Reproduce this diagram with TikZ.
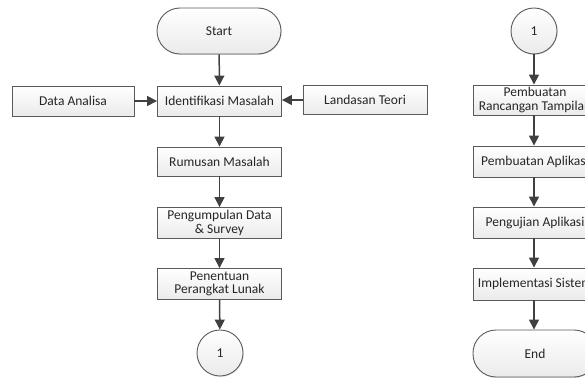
\documentclass[tikz,border=0pt]{standalone}
\usepackage{fontspec}
\setmainfont{Carlito}
\usetikzlibrary{arrows.meta,shadows}
\definecolor{edgegray}{HTML}{5A5A5A}
\definecolor{linegray}{HTML}{404040}
\tikzset{
  base/.style={draw=edgegray, line width=0.9pt, top color=white, bottom color=black!8,
    drop shadow={shadow xshift=0.8pt, shadow yshift=-0.8pt, opacity=0.25},
    font=\fontsize{13.5}{14.5}\selectfont, text=black!85, align=center, inner sep=0pt},
  procbox/.style={base, rectangle, minimum width=124pt, minimum height=30pt},
  termbox/.style={base, rectangle, rounded corners=23pt, minimum width=124pt, minimum height=46pt},
  connbox/.style={base, circle, minimum size=46pt},
  flow/.style={draw=linegray, line width=1.5pt, -{Triangle[length=10pt, width=10pt]}}
}
\begin{document}
\begin{tikzpicture}[x=1pt, y=-1pt]
\useasboundingbox (0,0) rectangle (585,377);
\clip (0,0) rectangle (585,377);

% first column
\node[termbox] (start) at (219,31) {Start};
\node[procbox] (ident) at (219.5,101) {Identifikasi Masalah};
\node[procbox, minimum width=122pt] (data) at (73,101) {Data Analisa};
\node[procbox, minimum height=29pt] (land) at (365,100) {Landasan Teori};
\node[procbox, minimum height=29pt] (rumus) at (219.5,161.5) {Rumusan Masalah};
\node[procbox, minimum height=31pt] (kumpul) at (219.5,223) {Pengumpulan Data\\[-1pt]\& Survey};
\node[procbox, minimum height=31pt] (tentu) at (219.5,284) {Penentuan\\[-1pt]Perangkat Lunak};
\node[connbox] (ca) at (220,353) {1};

% second column
\node[connbox] (cb) at (534,31) {1};
\node[procbox] (ranc) at (535,100) {Pembuatan\\[-1pt]Rancangan Tampilan};
\node[procbox, minimum height=31pt] (apl) at (535,161.5) {Pembuatan Aplikasi};
\node[procbox, minimum height=31pt] (uji) at (535,222.5) {Pengujian Aplikasi};
\node[procbox, minimum height=32pt] (impl) at (535,284) {Implementasi Sistem};
\node[termbox, minimum height=47pt] (end) at (535,353.5) {End};

% connectors
\draw[flow] (start) -- (ident);
\draw[flow] (data) -- (ident);
\draw[flow] (land) -- (ident.east |- land);
\draw[flow] (ident) -- (rumus);
\draw[flow] (rumus) -- (kumpul);
\draw[flow] (kumpul) -- (tentu);
\draw[flow] (tentu) -- (ca);
\draw[flow] (cb) -- (cb |- ranc.north);
\draw[flow] (ranc.south -| cb) -- (cb |- apl.north);
\draw[flow] (apl.south -| cb) -- (cb |- uji.north);
\draw[flow] (uji.south -| cb) -- (cb |- impl.north);
\draw[flow] (impl.south -| cb) -- (cb |- end.north);
\end{tikzpicture}
\end{document}
